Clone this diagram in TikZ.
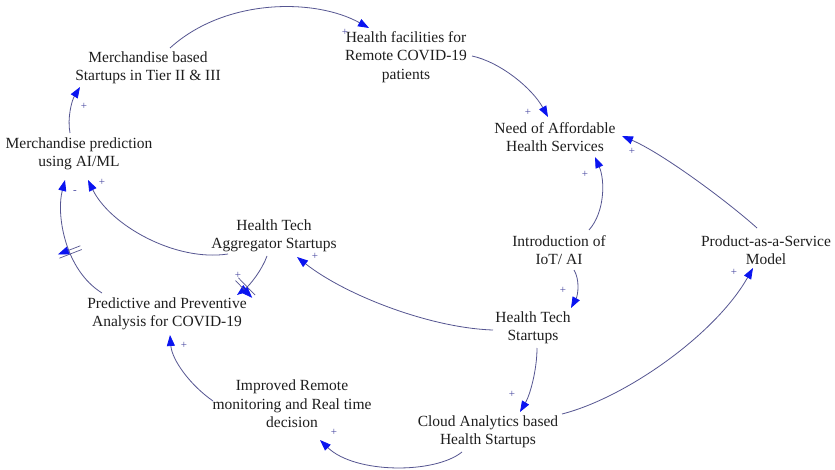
\documentclass[tikz,border=0pt]{standalone}
\usepackage{fontspec}
\setmainfont{Liberation Serif}
\usetikzlibrary{arrows.meta,decorations.markings,calc}
\definecolor{linkc}{RGB}{85,85,145}
\definecolor{tipc}{RGB}{10,20,240}
\definecolor{txtc}{RGB}{30,30,30}
\definecolor{polc}{RGB}{70,70,160}
\begin{document}
\begin{tikzpicture}[x=1pt,y=-1pt,
  var/.style={align=center, inner sep=0pt, text=txtc, font=\fontsize{15.5}{18.5}\selectfont},
  link/.style={draw=linkc, line width=0.8pt, -{Triangle[length=11pt,width=8pt,color=tipc]}},
  pol/.style={text=polc, font=\fontsize{11}{11}\selectfont, inner sep=0pt},
  delaymark/.style={postaction={decorate,decoration={markings,mark=at position #1 with {\draw[linkc,line width=0.7pt] (-2pt,-12pt)--(-2pt,12pt) (2pt,-12pt)--(2pt,12pt);}}}}
]
\fill[white] (0,0) rectangle (835,470);
\useasboundingbox (0,0) rectangle (835,470);

\node[var] (mb) at (148,68) {Merchandise based\\Startups in Tier II \& III};
\node[var] (hf) at (406,57) {Health facilities for\\Remote COVID-19\\patients};
\node[var] (na) at (555,137) {Need of Affordable\\Health Services};
\node[var] (mp) at (79,154) {Merchandise prediction\\using AI/ML};
\node[var] (ag) at (274,236) {Health Tech\\Aggregator Startups};
\node[var] (pp) at (167,314) {Predictive and Preventive\\Analysis for COVID-19};
\node[var] (ir) at (292,404) {Improved Remote\\monitoring and Real time\\decision};
\node[var] (io) at (559,250) {Introduction of\\IoT/ AI};
\node[var] (ps) at (766,250) {Product-as-a-Service\\Model};
\node[var] (hs) at (533,328) {Health Tech\\Startups};
\node[var] (ca) at (488,432) {Cloud Analytics based\\Health Startups};

% A
\draw[link] ($(mb)+(22,-20)$) .. controls (225,-2) and (315,-2) .. ($(hf)+(-37,-29)$);
% B
\draw[link] ($(hf)+(66,-1)$) .. controls (500,62) and (532,88) .. ($(na)+(-7,-20)$);
% C
\draw[link] ($(mp)+(-9,-21)$) .. controls (67,118) and (72,100) .. ($(mb)+(-68,19)$);
% D
\draw[link] ($(ag)+(-46,18)$) .. controls (175,262) and (110,225) .. ($(mp)+(9,26)$);
% E
\draw[link,delaymark=0.42] ($(pp)+(-65,-21)$) .. controls (65,270) and (56,215) .. ($(mp)+(-14,26)$);
% F
\draw[link,delaymark=0.78] ($(ag)+(-7,20)$) .. controls (262,270) and (250,285) .. ($(pp)+(70,-19)$);
% G
\draw[link] ($(hs)+(-40,2)$) .. controls (430,328) and (345,295) .. ($(ag)+(23,21)$);
% H
\draw[link] ($(io)+(30,-20)$) .. controls (605,212) and (605,180) .. ($(na)+(40,20)$);
% I
\draw[link] ($(io)+(15,20)$) .. controls (580,280) and (578,295) .. ($(hs)+(38,-20)$);
% J
\draw[link] ($(ps)+(-9,-22)$) .. controls (727,201) and (662,153) .. ($(na)+(67,-1)$);
% K
\draw[link] ($(hs)+(4,20)$) .. controls (537,370) and (530,395) .. ($(ca)+(32,-20)$);
% L
\draw[link] ($(ca)+(74,-18)$) .. controls (625,398) and (715,335) .. ($(ps)+(-13,18)$);
% M
\draw[link] ($(ca)+(-26,20)$) .. controls (435,474) and (355,474) .. ($(ir)+(28,36)$);
% N
\draw[link] ($(ir)+(-79,-3)$) .. controls (190,385) and (172,360) .. ($(pp)+(3,21)$);

\node[pol] (pA) at (345,32) {+};
\node[pol] (pB) at (528,112) {+};
\node[pol] (pC) at (84,106) {+};
\node[pol] (pD) at (102,182) {+};
\node[pol] (pE) at (75,192) {-};
\node[pol] (pF) at (238,275) {+};
\node[pol] (pG) at (315,256) {+};
\node[pol] (pH) at (585,174) {+};
\node[pol] (pI) at (563,290) {+};
\node[pol] (pJ) at (632,151) {+};
\node[pol] (pK) at (512,394) {+};
\node[pol] (pL) at (734,272) {+};
\node[pol] (pM) at (334,432) {+};
\node[pol] (pN) at (184,345) {+};
\end{tikzpicture}
\end{document}
